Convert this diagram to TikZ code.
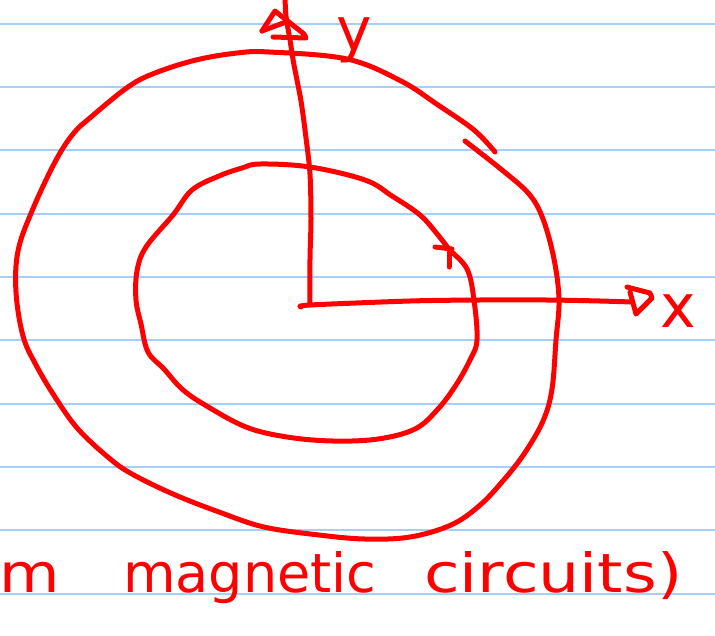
\documentclass[tikz,border=0pt]{standalone}
\usepackage{fontspec}
\newfontfamily\hand{DejaVu Sans}
\definecolor{ruleblue}{RGB}{166,206,247}
\definecolor{inkred}{RGB}{255,0,0}
\begin{document}
\begin{tikzpicture}[x=1pt,y=-1pt,
  ink/.style={draw=inkred, line width=5pt, line cap=round, line join=round},
  rule/.style={draw=ruleblue, line width=2pt},
  handtext/.style={text=inkred, inner sep=0pt, font=\hand\fontsize{54}{60}\selectfont},
  axislabel/.style={text=inkred, inner sep=0pt, font=\hand\fontsize{60}{60}\selectfont}]
\useasboundingbox (0,0) rectangle (715,635);
\fill[white] (0,0) rectangle (715,635);
% ruled paper
\foreach \k in {0,...,9} \draw[rule] (0,{23.5+63.37*\k}) -- (715,{23.5+63.37*\k});
% outer ring (one stroke, overlapping at the upper right)
\draw[ink] plot[smooth, tension=0.6] coordinates {(465,141) (502,170) (529,194) (543,219) (554,259) (559,300) (556,340) (552,389) (543,421) (524,454) (502,482) (479,506) (451,525) (410,537) (365,539) (319,535) (264,527) (219,512) (173,494) (132,474) (109,458) (78,429) (55,397) (36,365) (23,336) (16,292) (18,251) (32,211) (55,162) (73,134) (91,117) (128,87) (155,73) (196,60) (237,53) (269,52) (347,59) (401,81) (438,105) (474,130) (495,152)};
% inner ring
\draw[ink] plot[smooth cycle, tension=0.6] coordinates {(260,164) (310,167) (365,180) (392,196) (420,215) (438,235) (449,249) (467,269) (474,300) (477,340) (470,360) (456,385) (438,409) (415,429) (378,439) (333,441) (287,437) (246,427) (205,405) (182,389) (164,369) (148,352) (141,324) (136,300) (137,271) (146,247) (173,215) (192,190) (219,176) (242,168)};
% tick on inner ring
\draw[ink] (435,247) -- (452,249);
\draw[ink] (449,251) -- (449,267);
% axes
\coordinate (O) at (310,304);
\draw[ink] plot[smooth] coordinates {(310,304) (310,259) (311,219) (310,174) (306,138) (301,101) (294,65) (290,40) (286,16) (285,-3)};
\draw[ink] plot[smooth] coordinates {(301,307) (310,305) (410,301) (479,300) (547,300) (600,301) (632,302)};
% y arrow head
\draw[ink] (262,31) -- (275,11) -- (304,34) -- (306,38) -- (273,37);
\draw[ink] (262,31) -- (286,22);
% x arrow head
\draw[ink] (627,287) -- (650,293) -- (652,298) -- (636,314) -- (630,292);
% labels
\node[axislabel, anchor=base] (ylab) at (354,50) {y};
\node[axislabel, anchor=base] (xlab) at (678,327) {x};
\node[handtext, anchor=base east] (wm) at (60,592) {\scalebox{1.15}[1]{m}};
\node[handtext, anchor=base west] (wmag) at (123,592) {magnetic};
\node[handtext, anchor=base west] (wcirc) at (424,592) {\scalebox{1.2}[1]{circuits)}};
\end{tikzpicture}
\end{document}
